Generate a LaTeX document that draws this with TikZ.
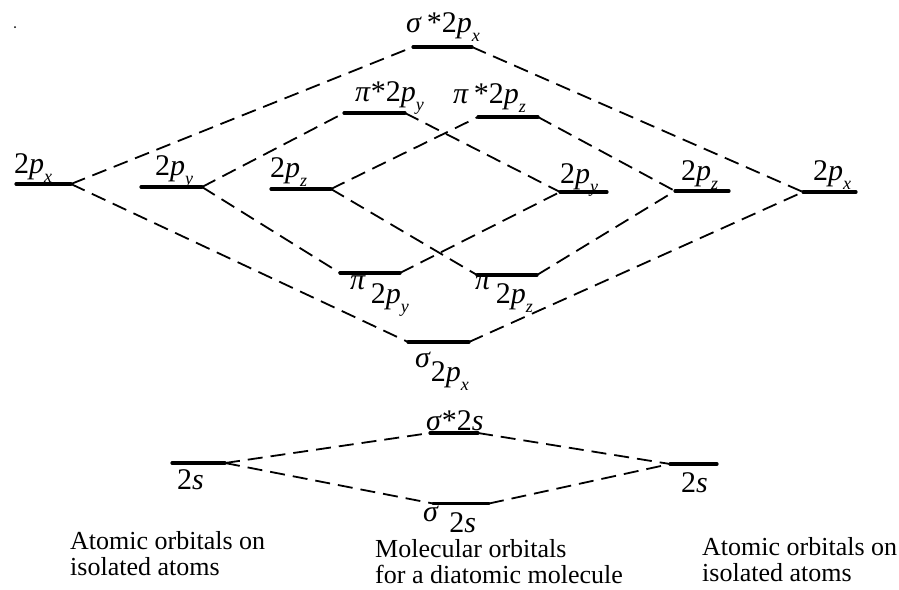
\documentclass[tikz,border=0pt]{standalone}
\usepackage{fontspec}
\setmainfont{Liberation Serif}
\newcommand\osub[1]{\raisebox{-0.32em}{\fontsize{18}{18}\selectfont\textit{#1}}}
\newcommand\orbp[1]{2\textit{p}\osub{#1}}
\begin{document}
\begin{tikzpicture}[x=1pt,y=-1pt,
  lvl/.style={rectangle, inner sep=0pt, outer sep=0pt, minimum height=0pt},
  lvlline/.style={line width=3.2pt, line cap=round},
  conn/.style={line width=1.8pt, dash pattern=on 15pt off 8pt},
  lab/.style={inner sep=0pt, anchor=base west, font=\fontsize{30}{32}\selectfont},
  body/.style={inner sep=0pt, anchor=base west, font=\fontsize{26}{28}\selectfont}]
\useasboundingbox (0,0) rectangle (899,589);
% levels
\node[lvl, minimum width=55pt] (Lx) at (43.5,184) {};
\node[lvl, minimum width=61pt] (Ly) at (171.5,187) {};
\node[lvl, minimum width=60pt] (Lz) at (301,189) {};
\node[lvl, minimum width=59pt] (SSx) at (442.5,47) {};
\node[lvl, minimum width=61pt] (PSy) at (374.5,113) {};
\node[lvl, minimum width=60pt] (PSz) at (508,117) {};
\node[lvl, minimum width=60pt] (Py) at (370,273) {};
\node[lvl, minimum width=60pt] (Pz) at (507,275) {};
\node[lvl, minimum width=61pt] (Sx) at (438.5,342) {};
\node[lvl, minimum width=47pt] (Ry) at (583.5,192) {};
\node[lvl, minimum width=54pt] (Rz) at (702,191) {};
\node[lvl, minimum width=53pt] (Rx) at (829.5,192) {};
\node[lvl, minimum width=53pt] (Ls) at (198.5,463) {};
\node[lvl, minimum width=48pt] (SSs) at (454,433) {};
\node[lvl, minimum width=56pt] (Ss) at (461,503.5) {};
\node[lvl, minimum width=47pt] (Rs) at (693.5,464) {};
\foreach \n in {Lx,Ly,Lz,SSx,PSy,PSz,Py,Pz,Sx,Ry,Rz,Rx,Ls,SSs,Ss,Rs}
  \draw[lvlline] (\n.west) -- (\n.east);
% connectors
\draw[conn] (Lx.east) -- (SSx.west);
\draw[conn] (Lx.east) -- (Sx.west);
\draw[conn] (Ly.east) -- (PSy.west);
\draw[conn] (Ly.east) -- (Py.west);
\draw[conn] (Lz.east) -- (PSz.west);
\draw[conn] (Lz.east) -- (Pz.west);
\draw[conn] (SSx.east) -- (Rx.west);
\draw[conn] (Sx.east) -- (Rx.west);
\draw[conn] (PSy.east) -- (Ry.west);
\draw[conn] (Py.east) -- (Ry.west);
\draw[conn] (PSz.east) -- (Rz.west);
\draw[conn] (Pz.east) -- (Rz.west);
\draw[conn] (Ls.east) -- (SSs.west);
\draw[conn] (Ls.east) -- (Ss.west);
\draw[conn] (SSs.east) -- (Rs.west);
\draw[conn] (Ss.east) -- (Rs.west);
% labels
\node[lab] (tSSx) at (406,32) {\textit{σ}\,*\orbp{x}};
\node[lab] (tPSy) at (355,101) {\textit{π}*\orbp{y}};
\node[lab] (tPSz) at (453,103) {\textit{π}\,*\orbp{z}};
\node[lab] (tLx) at (14,173) {\orbp{x}};
\node[lab] (tLy) at (155,175) {\orbp{y}};
\node[lab] (tLz) at (270,177) {\orbp{z}};
\node[lab] (tRy) at (560,183) {\orbp{y}};
\node[lab] (tRz) at (681,180) {\orbp{z}};
\node[lab] (tRx) at (813,180) {\orbp{x}};
\node[lab] (tPy) at (350,303) {\raisebox{0.45em}{\textit{π}}\,\orbp{y}};
\node[lab] (tPz) at (475,303) {\raisebox{0.45em}{\textit{π}}\,\orbp{z}};
\node[lab] (tSx) at (415,381) {\raisebox{0.45em}{\textit{σ}}\orbp{x}};
\node[lab] (tSSs) at (426,430) {\textit{σ}*2\textit{s}};
\node[lab] (tLs) at (177,489) {2\textit{s}};
\node[lab] (tRs) at (681,492) {2\textit{s}};
\node[lab] (tSs) at (423,532) {\raisebox{0.35em}{\textit{σ}}\hspace{0.35em}2\textit{s}};
% captions
\node[body] (c1a) at (70,549) {Atomic orbitals on};
\node[body] (c1b) at (70,575) {isolated atoms};
\node[body] (c2a) at (375,557) {Molecular orbitals};
\node[body] (c2b) at (375,583) {for a diatomic molecule};
\node[body] (c3a) at (702,555) {Atomic orbitals on};
\node[body] (c3b) at (702,581) {isolated atoms};
% speck
\fill (15,27) circle (1pt);
\end{tikzpicture}
\end{document}
